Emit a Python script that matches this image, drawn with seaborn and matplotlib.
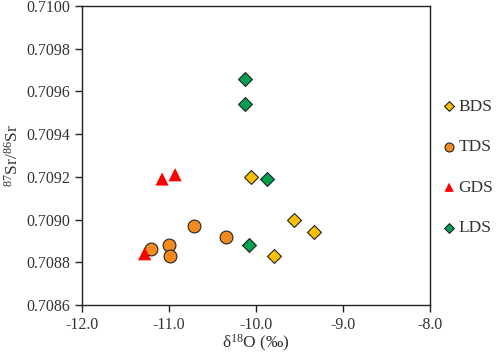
import matplotlib
matplotlib.use('Agg')
import matplotlib.pyplot as plt
import numpy as np
import pandas as pd
import seaborn as sns

# delta 18O and 87Sr/86Sr
bds_x = [-10.06, -9.56, -9.33, -9.79]
bds_y = [0.70920, 0.70900, 0.70894, 0.70883]

tds_x = [-11.21, -11.00, -10.99, -10.71, -10.35]
tds_y = [0.70886, 0.70888, 0.70883, 0.70897, 0.70892]

gds_x = [-11.28, -11.08, -10.93]
gds_y = [0.70884, 0.70919, 0.70921]

lds_x = [-10.13, -10.13, -9.87, -10.08]
lds_y = [0.70966, 0.70954, 0.70919, 0.70888]

groups = ['BDS', 'TDS', 'GDS', 'LDS']
colors = {'BDS': '#FFC000', 'TDS': '#F28A1E', 'GDS': '#FF0000', 'LDS': '#00A04F'}
markers = {'BDS': 'D', 'TDS': 'o', 'GDS': '^', 'LDS': 'D'}
sizes = {'BDS': 50, 'TDS': 85, 'GDS': 90, 'LDS': 50}

data = pd.DataFrame({
    'd18O': bds_x + tds_x + gds_x + lds_x,
    'Sr': bds_y + tds_y + gds_y + lds_y,
    'group': ['BDS'] * len(bds_x) + ['TDS'] * len(tds_x) + ['GDS'] * len(gds_x) + ['LDS'] * len(lds_x),
})

sns.set_style('ticks')
plt.rcParams['font.family'] = ['Liberation Serif', 'DejaVu Serif']
plt.rcParams['mathtext.fontset'] = 'custom'
plt.rcParams['mathtext.rm'] = 'Liberation Serif'
plt.rcParams['mathtext.it'] = 'Liberation Serif'
plt.rcParams['axes.unicode_minus'] = False

fig = plt.figure(figsize=(4.98, 3.53), dpi=100)
ax = fig.add_axes([0.1647, 0.136, 0.6988, 0.847])

for g in groups:
    sub = data[data['group'] == g]
    edge = 'none' if g == 'GDS' else '#222222'
    sns.scatterplot(data=sub, x='d18O', y='Sr', color=colors[g], marker=markers[g],
                    s=sizes[g], edgecolor=edge, linewidth=0.8, label=g, ax=ax, zorder=3)

ax.set_xlim(-12.0, -8.0)
ax.set_ylim(0.7086, 0.7100)
ax.set_xticks(np.arange(-12.0, -7.9, 1.0))
ax.set_yticks(np.arange(0.7086, 0.71001, 0.0002))
ax.xaxis.set_major_formatter(matplotlib.ticker.FormatStrFormatter('%.1f'))
ax.yaxis.set_major_formatter(matplotlib.ticker.FormatStrFormatter('%.4f'))
ax.tick_params(direction='out', length=5, width=1, labelsize=11.5, colors='#222222', labelcolor='#333333')
for sp in ax.spines.values():
    sp.set_color('#222222')
    sp.set_linewidth(1)

ax.set_xlabel('δ$^{18}$O (‰)', fontsize=12.5, color='#333333', labelpad=0)
ax.set_ylabel('$^{87}$Sr/$^{86}$Sr', fontsize=12.5, color='#333333', labelpad=3)

leg = ax.legend(loc='center left', bbox_to_anchor=(1.0, 0.46), frameon=False,
                fontsize=12.5, markerscale=0.7, handletextpad=0.15, handlelength=0.8,
                labelspacing=1.4, borderaxespad=0.0, borderpad=0.7)
for t in leg.get_texts():
    t.set_color('#333333')

fig.savefig('out.png', dpi=100)
